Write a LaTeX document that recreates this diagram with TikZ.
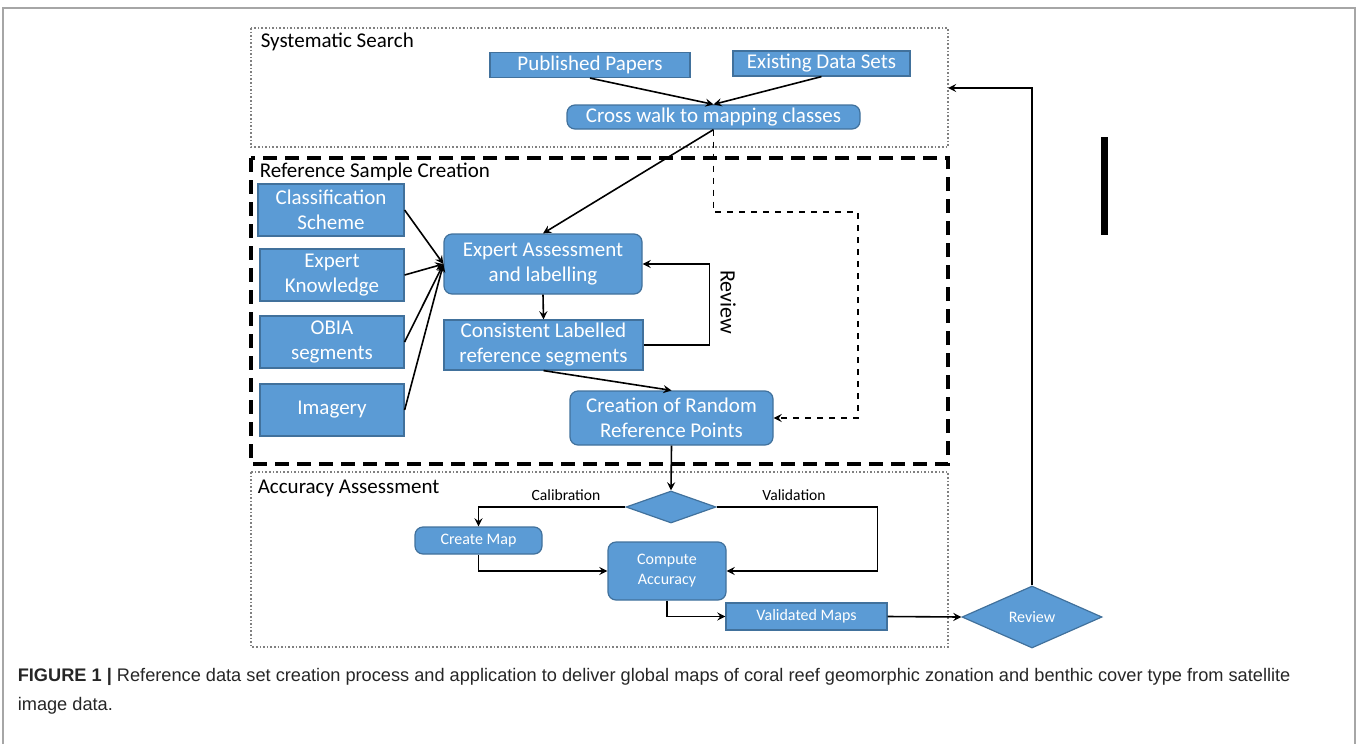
\documentclass[tikz,border=0pt]{standalone}
\usepackage{fontspec}
\setmainfont{Carlito}
\newfontfamily\capfont{Liberation Sans}
\usetikzlibrary{shapes.geometric,positioning}
\definecolor{boxblue}{RGB}{91,155,213}
\definecolor{boxline}{RGB}{65,113,156}

\begin{document}
\begin{tikzpicture}[%
        x=0.5pt, y=-0.5pt,
        >=stealth,
        every path/.style={line width=0.8pt},
        box/.style={rectangle, draw=boxline, fill=boxblue, text=white,
          align=center, inner sep=1pt, line width=0.6pt, font=\fontsize{10.5}{12.5}\selectfont},
        rbox/.style={box, rounded corners=4pt},
        small/.style={font=\fontsize{8}{10}\selectfont},
        decision/.style={diamond, draw=boxline, fill=boxblue, text=white,
          inner sep=0pt, line width=0.6pt, font=\fontsize{8}{10}\selectfont},
        section/.style={draw=gray, densely dotted, line width=0.6pt},
        bigdash/.style={draw=black, line width=2pt, dash pattern=on 7pt off 4pt},
        title/.style={anchor=west, inner sep=0pt, font=\fontsize{10.5}{12}\selectfont},
        branch/.style={inner sep=0pt, font=\fontsize{7.8}{9}\selectfont}
        ]
        \useasboundingbox (0,0) rectangle (1358,744);
        \draw[gray!70] (3,744) -- (3,8) -- (1355,8) -- (1355,744);

        % sections
        \draw[section] (251,28) rectangle (948,147);
        \draw[bigdash] (251,158) rectangle (948,464);
        \draw[section] (251,472) rectangle (948,647);
        \node[title] (sstitle) at (260,42) {Systematic Search};
        \node[title] (rstitle) at (259,172) {Reference Sample Creation};
        \node[title] (aatitle) at (257,488) {Accuracy Assessment};
        \coordinate (ssright) at (948,88);

        % systematic search
        \node[box, minimum width=100pt, minimum height=12.5pt] (pub) at (590,65) {Published Papers};
        \node[box, minimum width=88.5pt, minimum height=12.5pt] (exist) at (821.5,63.5) {Existing Data Sets};
        \node[rbox, minimum width=146.5pt, minimum height=12pt] (cross) at (713.5,117) {Cross walk to mapping classes};

        % reference sample creation
        \node[box, minimum width=73pt, minimum height=26pt] (cls) at (331,210) {Classification\\Scheme};
        \node[box, minimum width=72pt, minimum height=26pt] (know) at (332,275) {Expert\\Knowledge};
        \node[box, minimum width=72pt, minimum height=26pt] (obia) at (332,342) {OBIA\\segments};
        \node[box, minimum width=72pt, minimum height=26pt] (img) at (332,410) {Imagery};
        \node[rbox, minimum width=99pt, minimum height=30pt] (assess) at (543,264) {Expert Assessment\\and labelling};
        \node[box, minimum width=99.5pt, minimum height=25pt] (cons) at (543.5,345) {Consistent Labelled\\reference segments};
        \node[rbox, minimum width=101.5pt, minimum height=27pt] (rand) at (671.5,418) {Creation of Random\\Reference Points};
        \node[rotate=-90, inner sep=0pt, font=\fontsize{11}{13}\selectfont] (revlabel) at (728,302) {Review};

        % accuracy assessment
        \node[decision, minimum width=45pt, minimum height=16pt] (split) at (671,507) {};
        \node[rbox, small, minimum width=63.5pt, minimum height=13.5pt] (map) at (478.5,540.5) {Create Map};
        \node[rbox, small, minimum width=59pt, minimum height=29pt] (acc) at (667,571) {Compute\\Accuracy};
        \node[box, small, minimum width=80.5pt, minimum height=13.5pt] (valid) at (806.5,616.5) {Validated Maps};
        \node[decision, minimum width=70pt, minimum height=31pt] (rev) at (1032,617) {Review};
        \node[branch] (calib) at (566,495) {Calibration};
        \node[branch] (valtext) at (794,495) {Validation};

        \path[->] (pub.south) edge (cross.north);
        \path[->] (exist.south) edge (cross.north);
        \path[->] (cross.south) edge (assess.north);
        \draw[->, dashed] (cross.south) |- (858,212) |- (rand.east);
        \foreach \n in {cls,know,obia,img}
          \draw[->] (\n.east) -- (assess.west);
        \path[->] (assess.south) edge (cons.north);
        \draw[->] (cons.east) -- ++(66,0) |- (assess.east);
        \path[->] (cons.south) edge (rand.north);
        \path[->] (rand.south) edge (split.north);

        \draw[->] (split.west) -| (map.north);
        \draw[->] (split.east) -- ++(161,0) |- (acc.east);
        \draw[->] (map.south) |- (acc.west);
        \draw[->] (acc.south) |- (valid.west);
        \path[->] (valid.east) edge (rev.west);
        \draw[->] (rev.north) |- (ssright);

        \fill (1101,137) rectangle (1108,235);

        \node[anchor=north west, align=left, inner sep=0pt, text=black!85,
          font=\capfont\fontsize{9.1}{14.5}\selectfont] (cap) at (17,668)
          {\textbf{FIGURE 1 |} Reference data set creation process and application to deliver global maps of coral reef geomorphic zonation and benthic cover type from satellite\\image data.};
    \end{tikzpicture}
\end{document}
